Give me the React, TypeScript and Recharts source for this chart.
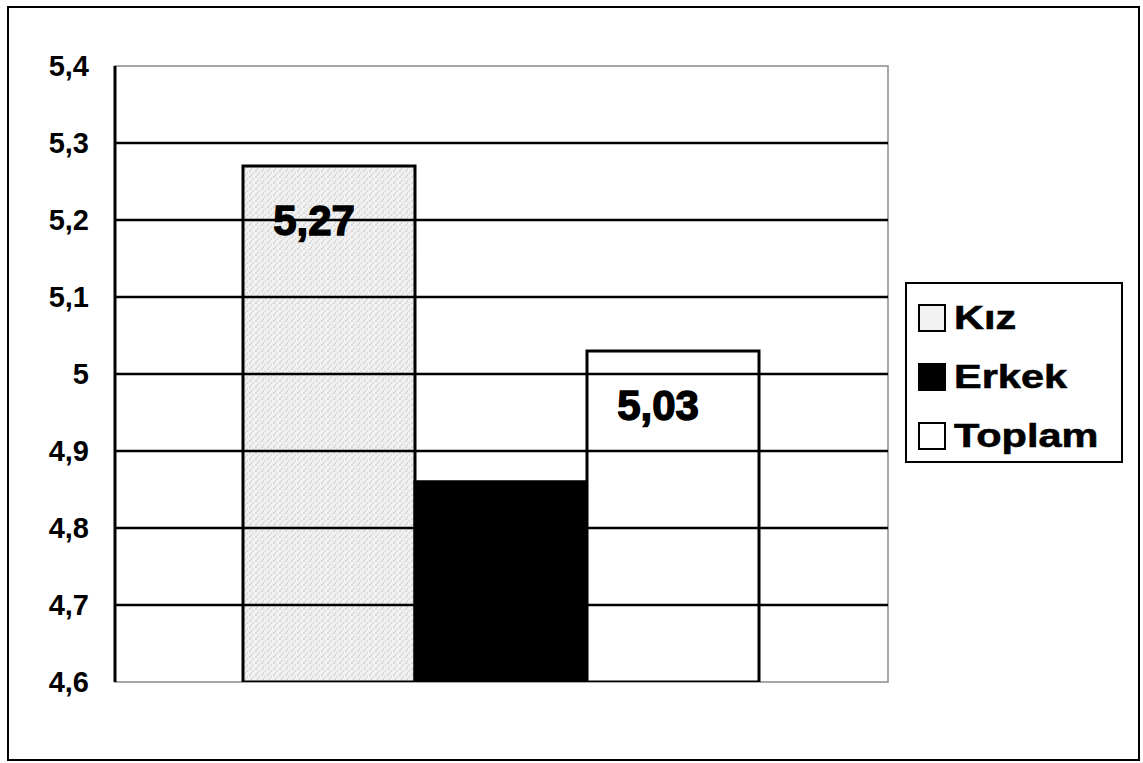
import React from 'react';
import { BarChart, Bar, XAxis, YAxis, ReferenceLine, ReferenceArea, LabelList } from 'recharts';

const seriesNames = ['Kız', 'Erkek', 'Toplam'];
const seriesValues = [5.27, 4.86, 5.03];
const seriesFills = ['url(#stipple)', '#000000', '#ffffff'];
const swatchFills = ['#f2f2f2', '#000000', '#ffffff'];
const yTicks = [4.6, 4.7, 4.8, 4.9, 5, 5.1, 5.2, 5.3, 5.4];

const data = [
  seriesNames.reduce((row: Record<string, number | string>, name, i) => {
    row[name] = seriesValues[i];
    return row;
  }, { group: '' }),
];

const FONT = '"Liberation Sans", Arial, sans-serif';
const fmt = (v: number) => String(v).replace('.', ',');

const ValueLabel = (props: any) => {
  const { x, y, width, value } = props;
  return (
    <text
      x={x + width / 2 - 15}
      y={y + 69}
      textAnchor="middle"
      fontFamily={FONT}
      fontWeight="bold"
      fontSize={42}
      fill="#000"
      stroke="#000"
      strokeWidth={1.4}
    >
      {Number(value).toFixed(2).replace('.', ',')}
    </text>
  );
};

const LegendBox = () => (
  <div
    style={{
      position: 'absolute',
      left: 896,
      top: 274,
      border: '2px solid #000',
      width: 218,
      height: 181,
      boxSizing: 'border-box',
      paddingTop: 4,
      background: '#fff',
    }}
  >
    {seriesNames.map((name, i) => (
      <div key={name} style={{ display: 'flex', alignItems: 'center', height: 59, paddingLeft: 11 }}>
        <div
          style={{
            width: 28,
            height: 28,
            boxSizing: 'border-box',
            border: '2px solid #000',
            background: swatchFills[i],
          }}
        />
        <span
          style={{
            fontFamily: FONT,
            fontWeight: 'bold',
            fontSize: 34,
            color: '#000',
            marginLeft: 8,
            display: 'inline-block',
            transform: 'scaleX(1.22)',
            transformOrigin: 'left center',
            WebkitTextStroke: '0.6px #000',
          }}
        >
          {name}
        </span>
      </div>
    ))}
  </div>
);

export default function App() {
  return (
    <div
      style={{
        position: 'absolute',
        left: 7,
        top: 6,
        width: 1133,
        height: 755,
        border: '2px solid #000',
        boxSizing: 'border-box',
        background: '#fff',
      }}
    >
      <BarChart
        width={1129}
        height={751}
        data={data}
        margin={{ top: 58, right: 250, bottom: 77, left: 0 }}
        barCategoryGap={128}
        barGap={0}
      >
        <defs>
          <pattern id="stipple" width="6" height="6" patternUnits="userSpaceOnUse">
            <rect width="6" height="6" fill="#f1f1f1" />
            <circle cx="1" cy="1" r="0.6" fill="#8a8a8a" />
            <circle cx="4.2" cy="3" r="0.5" fill="#a0a0a0" />
            <circle cx="2.3" cy="5" r="0.5" fill="#9a9a9a" />
          </pattern>
        </defs>
        <ReferenceArea y1={4.6} y2={5.4} fill="#fff" stroke="#8c8c8c" strokeWidth={1.5} ifOverflow="visible" />
        {yTicks.slice(1, -1).map((t) => (
          <ReferenceLine key={t} y={t} stroke="#000" strokeWidth={2.5} />
        ))}
        <XAxis dataKey="group" tick={false} tickLine={false} height={0} axisLine={{ stroke: '#000', strokeWidth: 3 }} />
        <YAxis
          width={106}
          domain={[4.6, 5.4]}
          ticks={yTicks}
          interval={0}
          allowDataOverflow
          tickLine={false}
          tickSize={0}
          tickMargin={26}
          tickFormatter={fmt}
          axisLine={{ stroke: '#000', strokeWidth: 3 }}
          tick={{ fill: '#000', fontFamily: FONT, fontWeight: 'bold', fontSize: 29 }}
        />
        {seriesNames.map((name, i) => (
          <Bar
            key={name}
            dataKey={name}
            fill={seriesFills[i]}
            stroke="#000"
            strokeWidth={3}
            isAnimationActive={false}
          >
            <LabelList dataKey={name} content={<ValueLabel />} />
          </Bar>
        ))}
      </BarChart>
      <LegendBox />
    </div>
  );
}
